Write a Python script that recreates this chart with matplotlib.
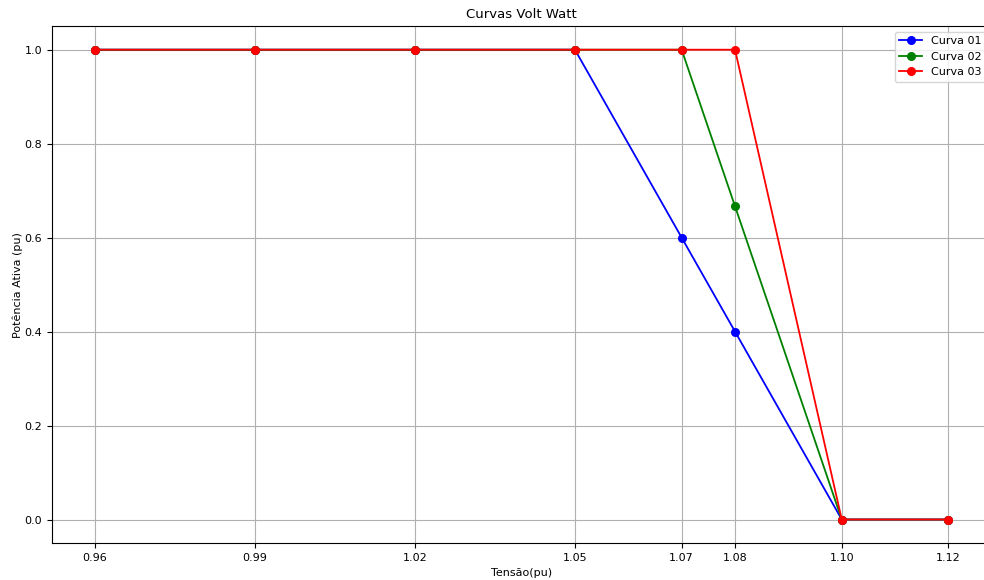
import matplotlib.pyplot as plt

tensao = [0.96, 0.99, 1.02, 1.05, 1.07, 1.08, 1.10, 1.12]
curva_01 = [1, 1, 1, 1, 0.6, 0.4, 0, 0]
curva_02 = [1, 1, 1, 1, 1, 0.6667, 0, 0]
curva_03 = [1, 1, 1, 1, 1, 1, 0, 0]
tick_labels = ['0.96', '0.99', '1.02', '1.05', '1.07', '1.08', '1.10', '1.12']

fig = plt.figure(figsize=(9.84, 5.8), dpi=100)
# axes run slightly past the right edge, so the legend is clipped there
ax = fig.add_axes([0.0528, 0.0638, 0.9545, 0.891])

ax.plot(tensao, curva_01, 'b-o', label='Curva 01', linewidth=1.3, markersize=5.5)
ax.plot(tensao, curva_02, 'g-o', label='Curva 02', linewidth=1.3, markersize=5.5)
ax.plot(tensao, curva_03, 'r-o', label='Curva 03', linewidth=1.3, markersize=5.5)

ax.set_xticks(tensao)
ax.set_xticklabels(tick_labels)
ax.tick_params(labelsize=8)
ax.set_xlabel('Tensão(pu)', fontsize=8)
ax.set_ylabel('Potência Ativa (pu)', fontsize=8, labelpad=1)
ax.set_title('Curvas Volt Watt', fontsize=9.5)
ax.legend(loc='upper right', fontsize=8)
ax.grid(True)

fig.savefig('out.png', dpi=100)
